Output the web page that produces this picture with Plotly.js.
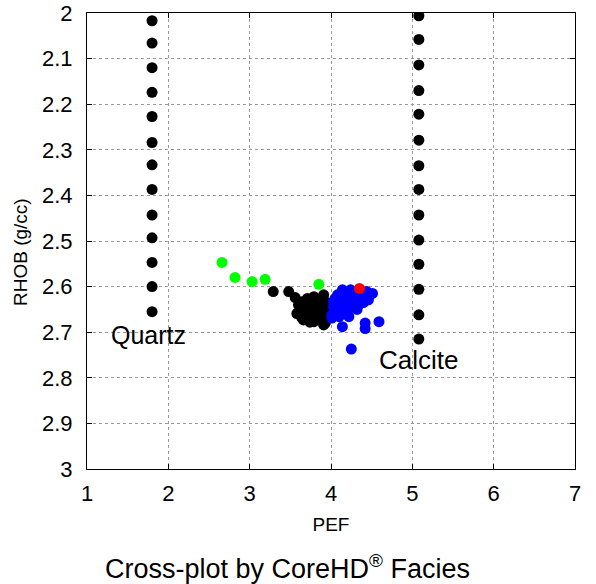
<!DOCTYPE html>
<html>
<head>
<meta charset="utf-8">
<script src="https://cdn.plot.ly/plotly-3.0.1.min.js"></script>
<style>
  html, body { margin: 0; padding: 0; background: #fff; }
  #chart { width: 596px; height: 584px; }
</style>
</head>
<body>
<div id="chart"></div>
<script>
// Reference mineral lines
const quartzPEF = [1.8,1.8,1.8,1.8,1.8,1.8,1.8,1.8,1.8,1.8,1.8,1.8,1.8];
const quartzRHOB = [2.017,2.066,2.120,2.174,2.227,2.284,2.333,2.387,2.443,2.493,2.547,2.600,2.655];
const calcitePEF = [5.08,5.08,5.08,5.08,5.08,5.08,5.08,5.08,5.08,5.08,5.08,5.08,5.08,5.08];
const calciteRHOB = [2.006,2.058,2.114,2.170,2.222,2.279,2.335,2.387,2.443,2.498,2.551,2.606,2.662,2.715];

// Facies samples
const blackPEF = [3.29,3.48,3.56,3.64,3.62,3.71,3.79,3.87,3.93,3.69,3.75,3.79,3.87,3.91,3.75,3.83,3.91,3.81,3.97,3.58,3.66,3.91,3.93,3.70,3.85,3.60,3.68,3.77,3.86,3.95,3.72,3.80,3.89,3.64,3.74];
const blackRHOB = [2.611,2.611,2.624,2.633,2.648,2.626,2.622,2.629,2.633,2.662,2.669,2.677,2.669,2.684,2.648,2.648,2.655,2.637,2.648,2.659,2.673,2.618,2.680,2.640,2.660,2.640,2.655,2.657,2.640,2.665,2.632,2.668,2.675,2.668,2.678];

const bluePEF = [4.14,4.24,4.44,4.51,4.05,4.16,4.28,4.38,4.46,4.03,4.14,4.24,4.34,4.01,4.10,4.22,4.01,4.14,4.42,4.42,4.59,4.03,4.25,4.20,4.32,4.08,4.30,4.18,4.10,4.36,4.40,4.26,4.06,4.12,4.19,4.47];
const blueRHOB = [2.607,2.607,2.611,2.615,2.626,2.626,2.622,2.626,2.629,2.644,2.644,2.640,2.640,2.662,2.666,2.666,2.669,2.688,2.680,2.692,2.677,2.633,2.737,2.655,2.650,2.618,2.612,2.615,2.652,2.622,2.635,2.632,2.657,2.636,2.648,2.618];

const greenPEF = [2.66,2.82,3.03,3.19,3.85];
const greenRHOB = [2.547,2.580,2.589,2.584,2.595];

const redPEF = [4.35];
const redRHOB = [2.604];

const xTicks = [1,2,3,4,5,6,7];
const yTicks = [2,2.1,2.2,2.3,2.4,2.5,2.6,2.7,2.8,2.9,3];

function pts(x, y, color) {
  return { x: x, y: y, type: 'scatter', mode: 'markers',
           marker: { color: color, size: 11, line: { width: 0 } },
           hoverinfo: 'skip', showlegend: false };
}

const data = [
  pts(quartzPEF, quartzRHOB, '#000000'),
  pts(calcitePEF, calciteRHOB, '#000000'),
  pts(blackPEF, blackRHOB, '#000000'),
  pts(bluePEF, blueRHOB, '#0000ff'),
  pts(greenPEF, greenRHOB, '#00ff00'),
  pts(redPEF, redRHOB, '#ff0000')
];

const FONT = 'Liberation Sans, Arial, Helvetica, sans-serif';
const axisCommon = {
  showline: true, linecolor: '#000', linewidth: 1, mirror: 'ticks',
  ticks: 'inside', ticklen: 5, tickcolor: '#000', tickwidth: 1,
  showgrid: true, gridcolor: '#999999', griddash: 'dot', gridwidth: 1,
  zeroline: false, tickfont: { family: FONT, size: 22, color: '#000' }
};

const layout = {
  width: 596, height: 584,
  margin: { l: 87, r: 21, t: 13, b: 115 },
  paper_bgcolor: '#fff', plot_bgcolor: '#fff',
  font: { family: FONT, color: '#000' },
  xaxis: Object.assign({}, axisCommon, {
    range: [1, 7], tickvals: xTicks, ticklabelstandoff: 5,
    title: { text: 'PEF', font: { family: FONT, size: 19, color: '#000' }, standoff: 12 }
  }),
  yaxis: Object.assign({}, axisCommon, {
    range: [3, 2], tickvals: yTicks, ticklabelstandoff: 9
  }),
  annotations: [
    { text: 'RHOB (g/cc)', x: 20, y: 252, xref: 'paper', yref: 'paper', showarrow: false,
      textangle: -90, font: { family: FONT, size: 19, color: '#000' },
      xanchor: 'center', yanchor: 'middle' },
    { text: 'Quartz', x: 1.75, y: 2.706, xref: 'x', yref: 'y', showarrow: false,
      font: { family: FONT, size: 25, color: '#000' }, xanchor: 'center', yanchor: 'middle' },
    { text: 'Calcite', x: 5.08, y: 2.76, xref: 'x', yref: 'y', showarrow: false,
      font: { family: FONT, size: 26, color: '#000' }, xanchor: 'center', yanchor: 'middle' },
    { text: 'Cross-plot by CoreHD<sup>®</sup> Facies', x: 0.41, y: -0.215, xref: 'paper', yref: 'paper',
      showarrow: false, font: { family: FONT, size: 27, color: '#000' },
      xanchor: 'center', yanchor: 'middle' }
  ]
};
// convert pixel placement of the y-axis title annotation into paper coords
(function () {
  const a = layout.annotations[0];
  const pw = 596 - 87 - 21, ph = 584 - 13 - 115;
  a.x = (a.x - 87) / pw;
  a.y = (584 - 115 - a.y) / ph;
})();

Plotly.newPlot('chart', data, layout, { staticPlot: true, displayModeBar: false });
</script>
</body>
</html>
